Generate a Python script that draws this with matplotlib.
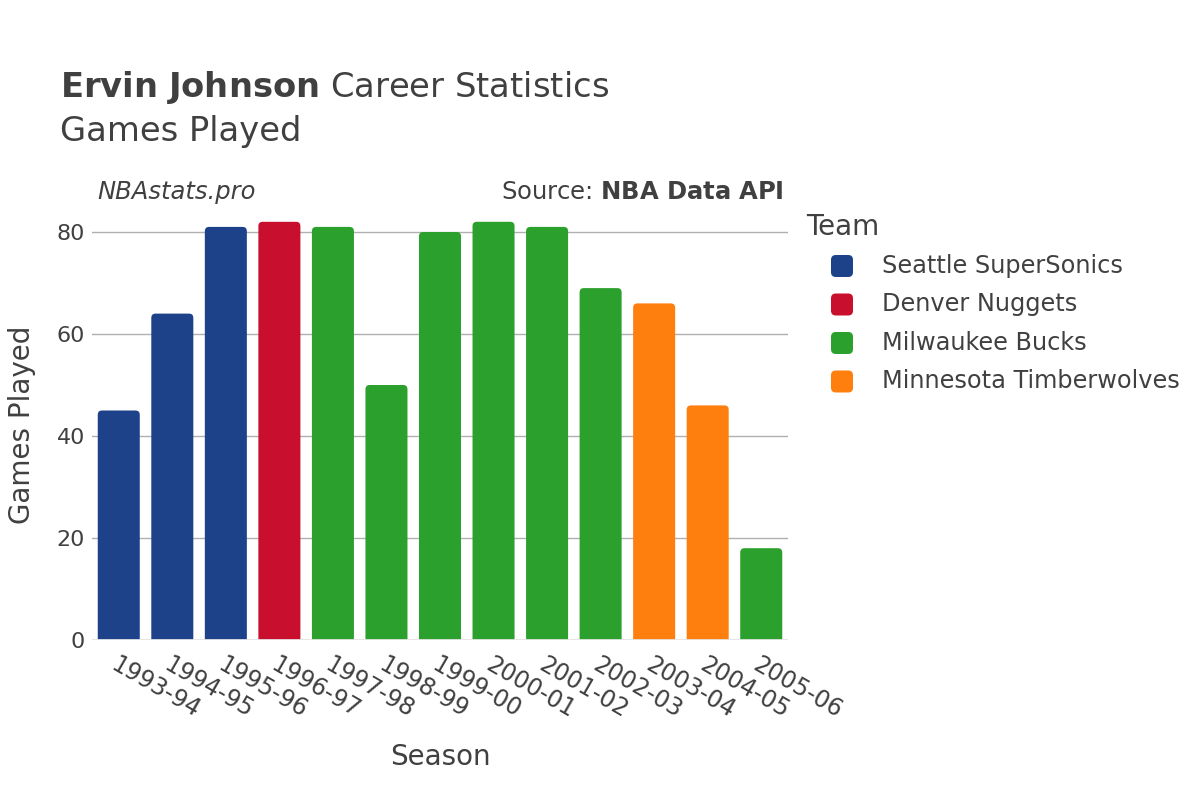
import matplotlib
matplotlib.use("Agg")
import matplotlib.pyplot as plt
from matplotlib.patches import FancyBboxPatch

seasons = ["1993-94", "1994-95", "1995-96", "1996-97", "1997-98", "1998-99", "1999-00",
           "2000-01", "2001-02", "2002-03", "2003-04", "2004-05", "2005-06"]
games = [45, 64, 81, 82, 81, 50, 80, 82, 81, 69, 66, 46, 18]
teams = ["Seattle SuperSonics", "Seattle SuperSonics", "Seattle SuperSonics", "Denver Nuggets",
         "Milwaukee Bucks", "Milwaukee Bucks", "Milwaukee Bucks", "Milwaukee Bucks",
         "Milwaukee Bucks", "Milwaukee Bucks", "Minnesota Timberwolves",
         "Minnesota Timberwolves", "Milwaukee Bucks"]
team_order = ["Seattle SuperSonics", "Denver Nuggets", "Milwaukee Bucks", "Minnesota Timberwolves"]
team_colors = {"Seattle SuperSonics": "#1d428a", "Denver Nuggets": "#c8102e",
               "Milwaukee Bucks": "#2ca02c", "Minnesota Timberwolves": "#ff7f0e"}

plt.rcParams['font.family'] = ['DejaVu Sans']
txt = "#404040"
W, H = 1200, 800

fig = plt.figure(figsize=(12, 8), dpi=100)
ax = fig.add_axes([92 / W, 160 / H, 696 / W, 430 / H])

ymax = 430 / 5.1
ax.set_xlim(-0.5, len(seasons) - 0.5)
ax.set_ylim(0, ymax)

width = 0.785
for i, (g, t) in enumerate(zip(games, teams)):
    # rounded top corners, like the original
    p = FancyBboxPatch((i - width / 2, -3), width, g + 3,
                       boxstyle="round,pad=0,rounding_size=0.08",
                       mutation_aspect=ymax / 430 * 696 / 13,
                       facecolor=team_colors[t], edgecolor="none", zorder=3, clip_on=True)
    ax.add_patch(p)

ax.set_yticks([0, 20, 40, 60, 80])
ax.grid(axis="y", color="#b0b0b0", linewidth=1, zorder=0)
ax.axhline(0, color="#e5e5e5", linewidth=2, zorder=4)
for s in ax.spines.values():
    s.set_visible(False)
ax.tick_params(axis="both", length=0, labelsize=16, labelcolor=txt)
ax.tick_params(axis="y", pad=5)
ax.set_xticks(range(len(seasons)))
ax.set_xticklabels(seasons, rotation=-30, ha="left", rotation_mode="anchor", fontsize=17)
ax.tick_params(axis="x", pad=9)

ax.set_xlabel("Season", fontsize=20, color=txt, labelpad=15)
ax.set_ylabel("Games Played", fontsize=20, color=txt, labelpad=15)

fig.text(60 / W, 1 - 88 / H, r"$\bf{Ervin\ Johnson}$ Career Statistics",
         fontsize=24.3, color=txt, va="center")
fig.text(60 / W, 1 - 132 / H, "Games Played", fontsize=24.3, color=txt, va="center")
fig.text(97 / W, 1 - 192 / H, "NBAstats.pro", fontsize=17.5, style="italic",
         color=txt, va="center")
fig.text(784 / W, 1 - 192 / H, r"Source: $\bf{NBA\ Data\ API}$", fontsize=17.5,
         color=txt, va="center", ha="right")

# legend drawn by hand to match spacing and rounded swatches
fig.text(806 / W, 1 - 227 / H, "Team", fontsize=20, color=txt, va="center")
for k, t in enumerate(team_order):
    yc = 266 + k * 38.5
    sw = FancyBboxPatch((831 / W, 1 - (yc + 11) / H), 22 / W, 22 / H,
                        boxstyle="round,pad=0,rounding_size=0.004",
                        mutation_aspect=W / H,
                        transform=fig.transFigure, facecolor=team_colors[t],
                        edgecolor="none")
    fig.patches.append(sw)
    fig.text(882 / W, 1 - yc / H, t, fontsize=17.3, color=txt, va="center")

fig.savefig("out.png", dpi=100)
